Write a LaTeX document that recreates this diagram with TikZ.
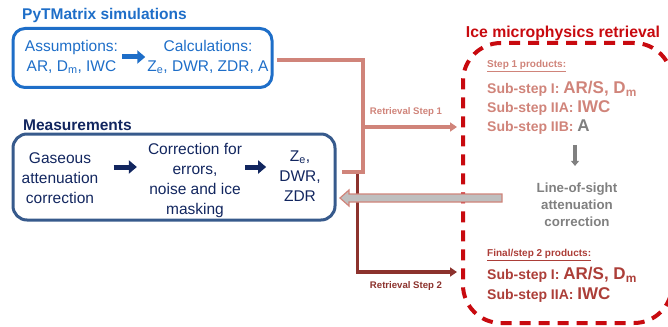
\documentclass[tikz,border=0pt]{standalone}
\usepackage{fontspec}
\setmainfont{Liberation Sans}
\usepackage{tikz}
\usetikzlibrary{arrows.meta}
\definecolor{simblue}{RGB}{30,110,200}
\definecolor{measnavy}{RGB}{18,38,95}
\definecolor{measedge}{RGB}{55,90,140}
\definecolor{stepone}{RGB}{208,132,122}
\definecolor{steptwo}{RGB}{140,50,45}
\definecolor{retred}{RGB}{200,10,15}
\definecolor{finalred}{RGB}{172,62,56}
\definecolor{losgray}{RGB}{128,128,128}
\tikzstyle{simbox}=[draw=simblue, line width=3pt, rounded corners=12pt, minimum width=259pt, minimum height=59pt]
\tikzstyle{measbox}=[draw=measedge, line width=3pt, rounded corners=14pt, minimum width=322pt, minimum height=86pt]
\tikzstyle{retbox}=[draw=retred, line width=4pt, dash pattern=on 11pt off 8pt, rounded corners=38pt, minimum width=209pt, minimum height=280pt]
\tikzstyle{body}=[align=center, inner sep=0pt, font=\fontsize{15.5}{20}\selectfont]
\tikzstyle{heading}=[anchor=west, inner sep=0pt, font=\fontsize{15.5}{18}\selectfont\bfseries]
\tikzstyle{product}=[anchor=west, inner sep=0pt, font=\fontsize{14}{17}\selectfont\bfseries]
\tikzstyle{stephead}=[anchor=west, inner sep=0pt, font=\fontsize{10}{12}\selectfont\bfseries]
\tikzstyle{steplabel}=[inner sep=0pt, font=\fontsize{9.6}{11}\selectfont\bfseries]
\tikzstyle{blockarrow}=[line width=5pt, -{Triangle[length=8pt,width=13pt]}]
\tikzstyle{retrieval}=[line width=3.5pt, -{Triangle[length=7pt,width=9pt]}]
\newcommand{\bigval}[1]{{\fontsize{17}{17}\selectfont #1}}

\begin{document}
\begin{tikzpicture}[x=1pt, y=-1pt]
\useasboundingbox (0,0) rectangle (668,326);
\clip (0,0) rectangle (668,326);

\node[heading, text=simblue] (simtitle) at (22,15) {PyTMatrix simulations};
\node[simbox] (sim) at (142.5,58) {};
\node[body, text=simblue] (assume) at (71.5,57) {Assumptions:\\AR, D\textsubscript{m}, IWC};
\node[body, text=simblue] (calc) at (208,57) {Calculations:\\Z\textsubscript{e}, DWR, ZDR, A};
\draw[blockarrow, simblue, shorten <=4pt, shorten >=2pt] (assume) -- (calc);

\node[heading, text=measnavy] (meastitle) at (23,125) {Measurements};
\node[measbox] (meas) at (174,177) {};
\node[body, text=measnavy] (gas) at (60,178) {Gaseous\\attenuation\\correction};
\node[body, text=measnavy] (corr) at (195,180) {Correction for\\errors,\\noise and ice\\masking};
\node[body, text=measnavy] (obs) at (300,176) {Z\textsubscript{e},\\DWR,\\ZDR};
\draw[blockarrow, measnavy] ([shift={(15,-11)}]gas.east) -- ([shift={(-11,-13)}]corr.west);
\draw[blockarrow, measnavy] ([shift={(3,-13)}]corr.east) -- ([shift={(-13,-9)}]obs.west);

\node[font=\fontsize{15.8}{18}\selectfont\bfseries, text=retred, inner sep=0pt] (rettitle) at (563,33) {Ice microphysics retrieval};
\node[retbox] (ret) at (567.5,183) {};

\node[stephead, text=stepone] (s1head) at (487,66) {\underline{Step 1 products:}};
\node[product, text=stepone] (s1i) at (487,89) {Sub-step I: \bigval{AR/S, D\textsubscript{m}}};
\node[product, text=stepone] (s1iia) at (487,108) {Sub-step IIA: \bigval{IWC}};
\node[product, text=stepone] (s1iib) at (487,127) {Sub-step IIB: \bigval{\textcolor{losgray}{A}}};
\node[align=center, inner sep=0pt, text=losgray, font=\fontsize{13.3}{17}\selectfont\bfseries] (los) at (577,205) {Line-of-sight\\attenuation\\correction};
\draw[line width=3.5pt, losgray, -{Triangle[length=5pt,width=8pt]}] ([shift={(-2,-38)}]los.north) -- ([shift={(-2,-17)}]los.north);
\node[stephead, text=finalred] (s2head) at (487,255) {\underline{Final/step 2 products:}};
\node[product, text=finalred] (s2i) at (487,275) {Sub-step I: \bigval{AR/S, D\textsubscript{m}}};
\node[product, text=finalred] (s2iia) at (487,295) {Sub-step IIA: \bigval{IWC}};

\coordinate (split) at (363,172);
\coordinate (step1end) at (457,127);
\coordinate (step2end) at (457,272);
\coordinate (losright) at (502,198);
\draw[retrieval, steptwo] (357.5,173) |- (step2end);
\draw[line width=3.5pt, stepone] ([shift={(3.5,2)}]sim.east) -| (split) -- ([xshift=5pt]meas.east |- split);
\draw[retrieval, stepone] (split |- step1end) -- (step1end);
\node[steplabel, text=stepone] (lab1) at (406,112) {Retrieval Step 1};
\node[steplabel, text=steptwo] (lab2) at (406,286) {Retrieval Step 2};
\draw[fill=gray!50, draw=stepone, line width=1.2pt] (losright) ++(0,-4) -- ++(-153,0) -- ++(0,-4) -- ++(-9,8) -- ++(9,8) -- ++(0,-4) -- ++(153,0) -- cycle;
\end{tikzpicture}
\end{document}
